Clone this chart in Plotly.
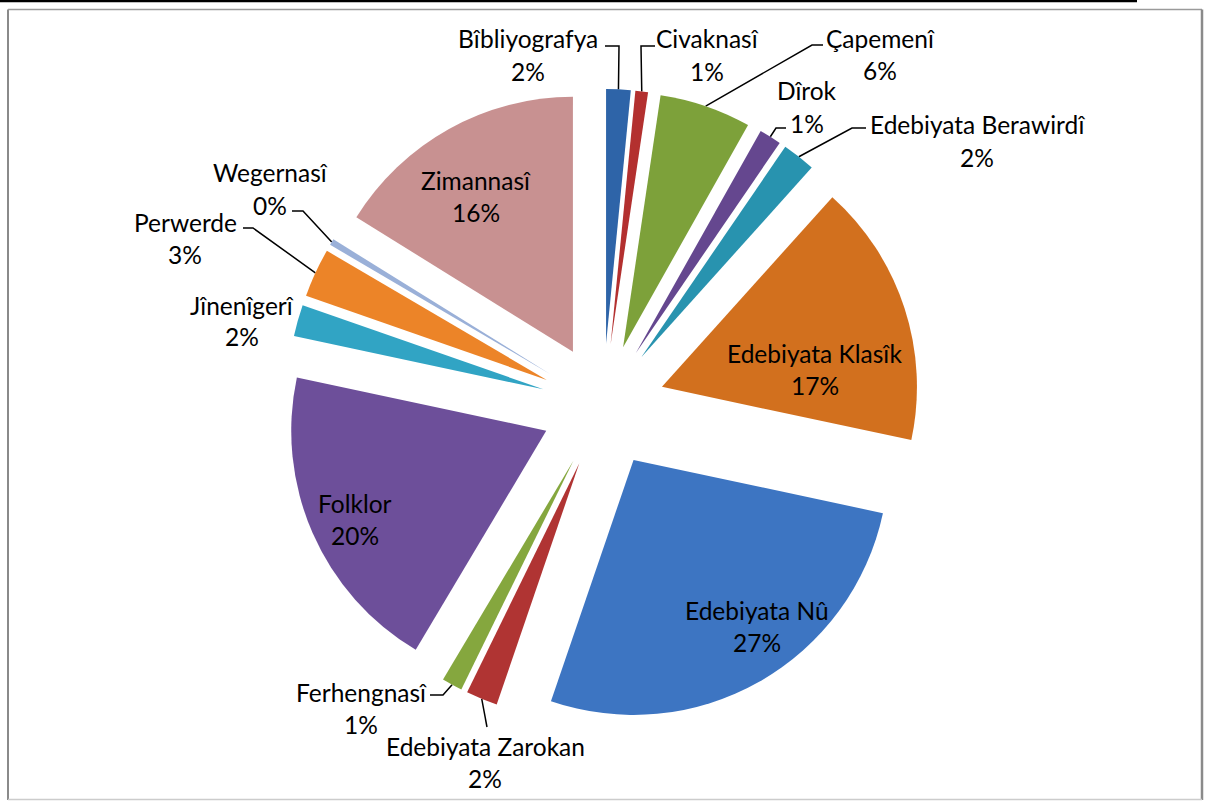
import math
import plotly.graph_objects as go

# ---------------- data ----------------
categories = [
    "Bîbliyografya", "Civaknasî", "Çapemenî", "Dîrok", "Edebiyata Berawirdî",
    "Edebiyata Klasîk", "Edebiyata Nû", "Edebiyata Zarokan", "Ferhengnasî",
    "Folklor", "Jînenîgerî", "Perwerde", "Wegernasî", "Zimannasî",
]
values = [1.55, 0.8, 5.8, 1.4, 2.1, 16.7, 26.9, 2.0, 1.3, 19.8, 2.0, 3.1, 0.4, 16.15]

# ---------------- styles ----------------
colors = [
    "#2E64A8", "#B3302F", "#7DA13A", "#65478F", "#2893AF",
    "#D2701E", "#3D75C2", "#B03433", "#85A73E", "#6D4F9A",
    "#31A4C4", "#EC8428", "#9AB0D8", "#C89191",
]

W, H = 1207, 801
DOM_X = [0.2370, 0.7622]
DOM_Y = [0.0974, 0.8889]
PULL = 0.243
FONT = "Lato"
FSIZE = 24.5

# label layout (pixel positions): centre x, name-line y, percent-line y, leader waypoints
label_layout = {
    "Bîbliyografya": (528, 38, 71, [(619, 46), (605, 46)]),
    "Civaknasî": (707, 38, 71, [(641, 46), (655, 46)]),
    "Çapemenî": (880, 38, 70, [(812, 45), (823, 45)]),
    "Dîrok": (807, 90, 123, [(776, 128), (786, 128)]),
    "Edebiyata Berawirdî": (977, 124, 157, [(852, 128), (866, 128)]),
    "Edebiyata Klasîk": (815, 353, 385, None),
    "Edebiyata Nû": (757, 610, 642, None),
    "Edebiyata Zarokan": (485, 746, 778, [(487, 727)]),
    "Ferhengnasî": (361, 692, 724, [(443, 695), (430, 695)]),
    "Folklor": (355, 503, 535, None),
    "Jînenîgerî": (242, 305, 336, None),
    "Perwerde": (185, 222, 254, [(253, 228), (243, 228)]),
    "Wegernasî": (270, 172, 205, [(303, 211), (292, 211)]),
    "Zimannasî": (476, 180, 212, None),
}

total = sum(values)
pcts = [int(v / total * 100 + 0.5) for v in values]

fig = go.Figure()
fig.add_trace(go.Pie(
    labels=categories,
    values=values,
    sort=False,
    direction="clockwise",
    rotation=0,
    pull=[PULL] * len(values),
    marker=dict(colors=colors, line=dict(width=0)),
    textinfo="none",
    hoverinfo="label+percent",
    showlegend=False,
    domain=dict(x=DOM_X, y=DOM_Y),
))

# pie geometry in pixels (derived from the pie domain and pull, as plotly lays it out)
cx = W * (DOM_X[0] + DOM_X[1]) / 2
cy = H * (1 - (DOM_Y[0] + DOM_Y[1]) / 2)
r = min(W * (DOM_X[1] - DOM_X[0]), H * (DOM_Y[1] - DOM_Y[0])) / (2 + 2 * PULL)

lx, ly = [], []
cum = 0.0
for cat, v in zip(categories, values):
    a = 2 * math.pi * (cum + v / 2) / total
    cum += v
    px = cx + r * (1 + PULL) * math.sin(a)
    py = cy - r * (1 + PULL) * math.cos(a)
    way = label_layout[cat][3]
    if way:
        lx.append(px); ly.append(py)
        for (wx, wy) in way:
            lx.append(wx); ly.append(wy)
        lx.append(None); ly.append(None)

fig.add_trace(go.Scatter(
    x=lx, y=ly, mode="lines",
    line=dict(color="black", width=1.5),
    hoverinfo="skip", showlegend=False,
))

annotations = []
for cat, p in zip(categories, pcts):
    x0, yn, yp, _ = label_layout[cat]
    for txt, yy in ((cat, yn), (f"{p}%", yp)):
        annotations.append(dict(
            x=x0, y=yy, xref="x", yref="y", text=txt, showarrow=False,
            xanchor="center", yanchor="middle",
            font=dict(family=FONT, size=FSIZE, color="black"),
        ))

shapes = [
    dict(type="line", x0=0, x1=1137, y0=1, y1=1, xref="x", yref="y",
         line=dict(color="black", width=2.5)),
    dict(type="line", x0=8, x1=8, y0=9.5, y1=800, xref="x", yref="y",
         line=dict(color="#8a8a8a", width=2)),
    dict(type="line", x0=8, x1=1202, y0=9.5, y1=9.5, xref="x", yref="y",
         line=dict(color="#9a9a9a", width=1.5)),
    dict(type="line", x0=1202, x1=1202, y0=9.5, y1=800, xref="x", yref="y",
         line=dict(color="#8a8a8a", width=2.5)),
    dict(type="line", x0=8, x1=1202, y0=799.5, y1=799.5, xref="x", yref="y",
         line=dict(color="#cccccc", width=1.5)),
]

fig.update_layout(
    width=W, height=H,
    margin=dict(l=0, r=0, t=0, b=0),
    paper_bgcolor="white", plot_bgcolor="rgba(0,0,0,0)",
    xaxis=dict(range=[0, W], visible=False, fixedrange=True, domain=[0, 1]),
    yaxis=dict(range=[H, 0], visible=False, fixedrange=True, domain=[0, 1]),
    annotations=annotations,
    shapes=shapes,
    font=dict(family=FONT),
)

fig.write_html(
    "out.html",
    config={"displayModeBar": False},
    post_script="document.body.style.margin='0';document.body.style.overflow='hidden';",
)
